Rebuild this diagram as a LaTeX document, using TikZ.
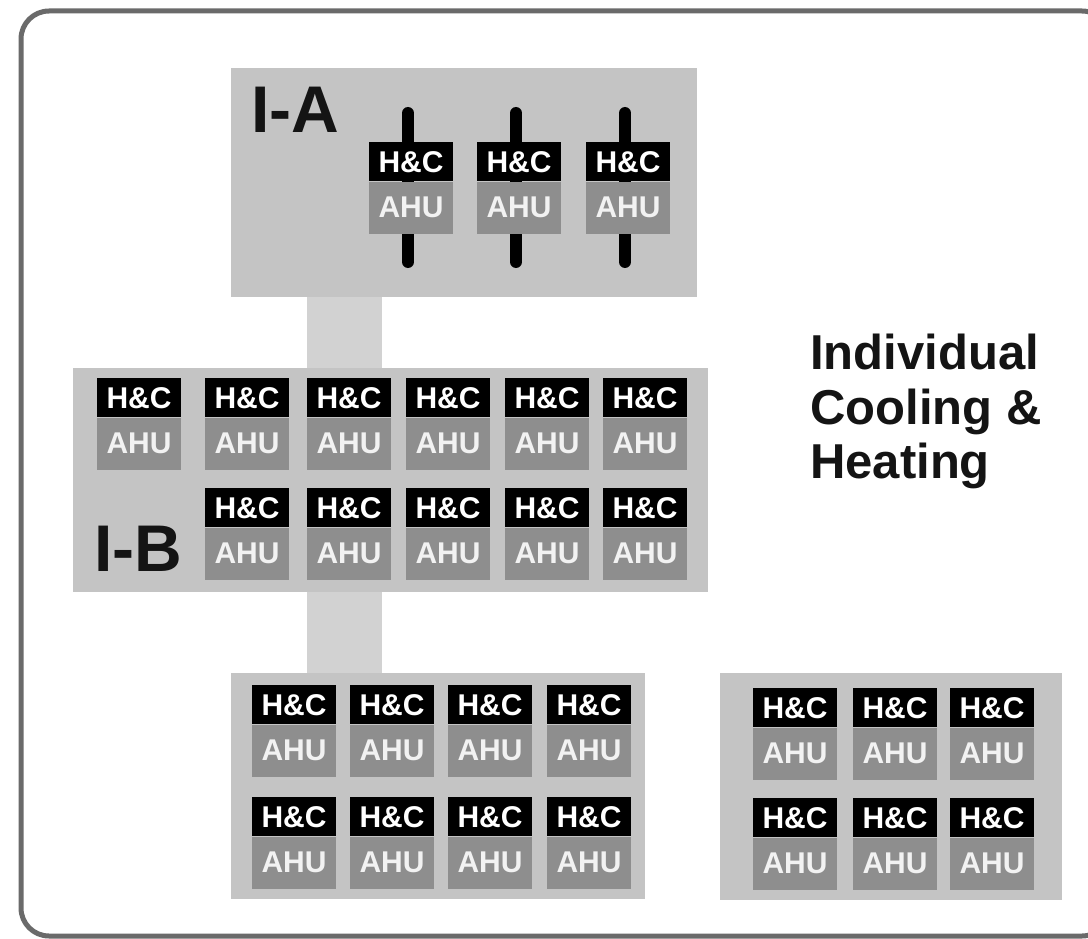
\documentclass[tikz,border=0pt]{standalone}
\usepackage{fontspec}
\setmainfont{Liberation Sans}
\usetikzlibrary{calc}
\definecolor{boxgray}{HTML}{C4C4C4}
\definecolor{bandgray}{HTML}{D2D2D2}
\definecolor{ahugray}{HTML}{8E8E8E}
\definecolor{framegray}{HTML}{6A6A6A}
\definecolor{ink}{HTML}{141414}
\definecolor{ahutext}{HTML}{F2F2F2}
\tikzset{
  zone/.style={fill=boxgray, draw=none, inner sep=0pt, anchor=north west},
  hcbox/.style={fill=black, text=white, inner sep=0pt, minimum width=84pt, minimum height=39pt,
    font=\fontsize{30}{34}\selectfont\bfseries, anchor=north},
  ahubox/.style={fill=ahugray, text=ahutext, inner sep=0pt, minimum width=84pt, minimum height=52pt,
    font=\fontsize{30}{34}\selectfont\bfseries, anchor=north},
  zonelabel/.style={text=ink, inner sep=0pt, anchor=base west, font=\fontsize{66}{72}\selectfont\bfseries},
  pipe/.style={line width=12pt, line cap=round, draw=black},
  band/.style={fill=bandgray, draw=none},
  frame/.style={draw=framegray, line width=5pt, rounded corners=28pt}
}
\newcommand\hcunit[3]{%
  \node[hcbox] (hc#1) at (#2,#3) {H\&C};
  \node[ahubox] (ahu#1) at (hc#1.south) {AHU};
}
\begin{document}
\begin{tikzpicture}[x=1pt,y=-1pt]
\useasboundingbox (0,0) rectangle (1088,939);
\clip (0,0) rectangle (1088,939);
\fill[white] (0,0) rectangle (1088,939);
\draw[frame] (21,11) rectangle (1110,936);

% zones
\node[zone, minimum width=466pt, minimum height=229pt] (IA) at (231,68) {};
\node[zone, minimum width=635pt, minimum height=224pt] (IB) at (73,368) {};
\node[zone, minimum width=414pt, minimum height=226pt] (BL) at (231,673) {};
\node[zone, minimum width=342pt, minimum height=227pt] (BR) at (720,673) {};

% connecting bands
\fill[band] ($(IA.south west)+(76,0)$) rectangle ($(IB.north west)+(309,0)$);
\fill[band] ($(IB.south west)+(234,0)$) rectangle ($(BL.north west)+(151,0)$);

% I-A units with pipes
\foreach \i/\cx in {1/411,2/519,3/628}{
  \draw[pipe] (\cx-3,113) -- (\cx-3,262);
}
\hcunit{A1}{411}{142}
\hcunit{A2}{519}{142}
\hcunit{A3}{628}{142}

% I-B units
\foreach \i/\cx in {1/139,2/247,3/349,4/448,5/547,6/645}{
  \hcunit{B\i}{\cx}{378}
}
\foreach \i/\cx in {2/247,3/349,4/448,5/547,6/645}{
  \hcunit{C\i}{\cx}{488}
}

% bottom-left units
\foreach \i/\cx in {1/294,2/392,3/490,4/589}{
  \hcunit{D\i}{\cx}{685}
  \hcunit{E\i}{\cx}{797}
}

% bottom-right units
\foreach \i/\cx in {1/795,2/895,3/992}{
  \hcunit{F\i}{\cx}{688}
  \hcunit{G\i}{\cx}{798}
}

% labels
\node[zonelabel] (labIA) at (251,133) {I-A};
\node[zonelabel] (labIB) at (94,571) {I-B};

\node[text=ink, inner sep=0pt, anchor=north west, align=left,
  font=\fontsize{49}{54.5}\selectfont\bfseries] (title) at (810,334)
  {Individual\\Cooling \&\\Heating};
\end{tikzpicture}
\end{document}
